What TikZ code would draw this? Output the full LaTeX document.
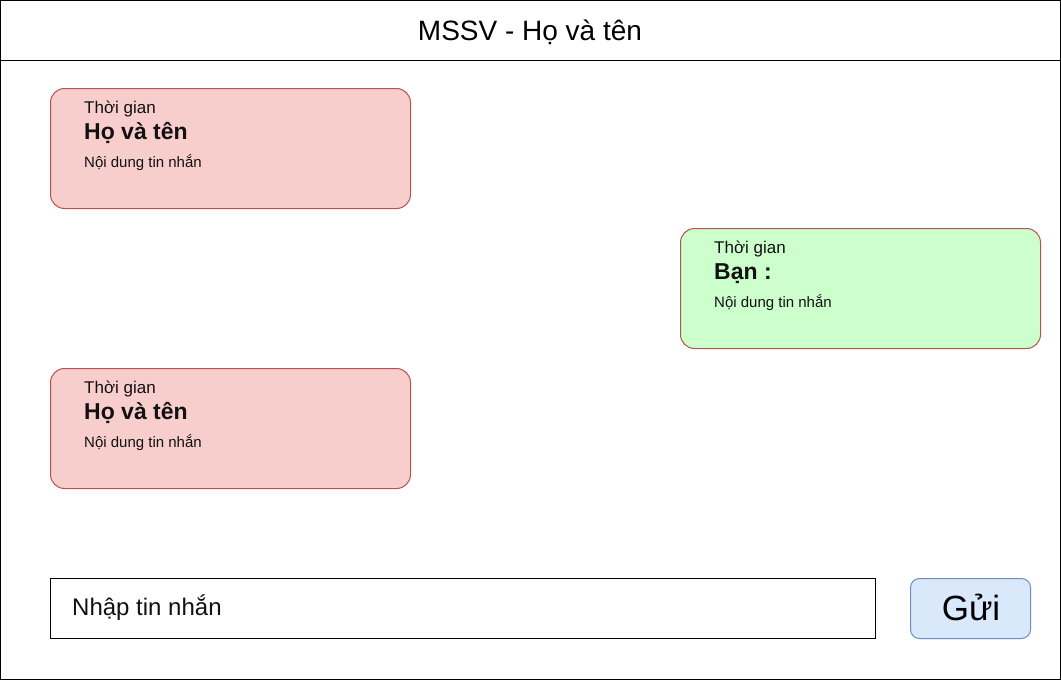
\documentclass[tikz,border=0pt]{standalone}
\usepackage{fontspec}
\setmainfont{Liberation Sans}
\definecolor{redfill}{HTML}{F8CECC}
\definecolor{redline}{HTML}{B85450}
\definecolor{greenfill}{HTML}{CCFFCC}
\definecolor{bluefill}{HTML}{DAE8FC}
\definecolor{blueline}{HTML}{6C8EBF}
\definecolor{txt}{HTML}{111111}
\tikzset{
  frame/.style={draw=black, line width=1pt},
  bubble/.style={line width=1pt, rounded corners=14pt},
  theirs/.style={bubble, fill=redfill, draw=redline},
  mine/.style={bubble, fill=greenfill, draw=redline},
  sendbtn/.style={line width=1pt, rounded corners=9pt, fill=bluefill, draw=blueline},
  lbl/.style={anchor=base west, inner sep=0pt, text=txt},
}
\newcommand{\fs}[1]{\fontsize{#1pt}{#1pt}\selectfont}
\begin{document}
\begin{tikzpicture}[x=1pt,y=-1pt]
\useasboundingbox (0,0) rectangle (1061,680);
\fill[white] (0,0) rectangle (1061,680);
% outer frame and title bar
\draw[frame] (0.5,0.5) rectangle (1060.5,679.5);
\draw[frame] (0.5,60.5) -- (1060.5,60.5);
\node[inner sep=0pt, anchor=base] (title) at (530,40) {\fs{28}MSSV - Họ và tên};
% message 1
\draw[theirs] (50.5,88.5) rectangle (410.5,208.5);
\node[lbl] (t1) at (84,113) {\fs{17}Thời gian};
\node[lbl] (n1) at (84,139) {\fs{23}\bfseries Họ và tên};
\node[lbl] (c1) at (84,167) {\fs{15}Nội dung tin nhắn};
% message 2 (mine)
\draw[mine] (680.5,228.5) rectangle (1040.5,348.5);
\node[lbl] (t2) at (714,253) {\fs{17}Thời gian};
\node[lbl] (n2) at (714,279) {\fs{23}\bfseries Bạn :};
\node[lbl] (c2) at (714,307) {\fs{15}Nội dung tin nhắn};
% message 3
\draw[theirs] (50.5,368.5) rectangle (410.5,488.5);
\node[lbl] (t3) at (84,393) {\fs{17}Thời gian};
\node[lbl] (n3) at (84,419) {\fs{23}\bfseries Họ và tên};
\node[lbl] (c3) at (84,447) {\fs{15}Nội dung tin nhắn};
% input
\draw[frame] (50.5,578.5) rectangle (875.5,638.5);
\node[lbl] (inp) at (72,615) {\fs{24}Nhập tin nhắn};
% send button
\draw[sendbtn] (910.5,578.5) rectangle (1030.5,638.5);
\node[inner sep=0pt, anchor=base] (send) at (971,620) {\fs{35}Gửi};
\end{tikzpicture}
\end{document}
